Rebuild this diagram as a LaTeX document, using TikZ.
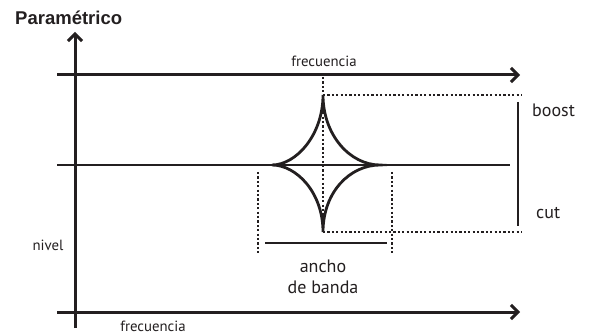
\documentclass[tikz,border=0pt]{standalone}
\usepackage{fontspec}
\setmainfont{PT Sans}
\newfontfamily\titlefont{Liberation Sans}
\usetikzlibrary{arrows.meta}
\definecolor{ink}{HTML}{231F20}
\begin{document}
\begin{tikzpicture}[x=1pt,y=-1pt,
  axis/.style={draw=ink,line width=3pt,-{Straight Barb[length=7pt,width=14pt,line width=3pt]}},
  solid line/.style={draw=ink,line width=2.8pt},
  dotline/.style={draw=ink,line width=2.4pt,dash pattern=on 2.2pt off 2.2pt},
  curve/.style={draw=ink,line width=2.8pt},
  lab/.style={inner sep=0pt,text=ink,font=\fontsize{14.8}{16}\selectfont},
  biglab/.style={inner sep=0pt,text=ink,font=\fontsize{18}{21}\selectfont}]
\useasboundingbox (0,0) rectangle (593,336);
% coordinates
\coordinate (yB) at (75,328);
\coordinate (yT) at (75,32);
\coordinate (tL) at (57,75);
\coordinate (tR) at (520,75);
\coordinate (mL) at (57,165);
\coordinate (mR) at (510,165);
\coordinate (bL) at (57,312);
\coordinate (bR) at (520,312);
\coordinate (cl) at (272,165);
\coordinate (cr) at (380,165);
\coordinate (ct) at (323,95);
\coordinate (cb) at (323,232);
\coordinate (dvT) at (323,77);
\coordinate (dtR) at (522,95);
\coordinate (dbR) at (522,232);
\coordinate (vT) at (518,102);
\coordinate (vB) at (518,226);
\coordinate (ldT) at (258,172);
\coordinate (ldB) at (258,253);
\coordinate (rdT) at (392,172);
\coordinate (rdB) at (392,253);
\coordinate (bwL) at (265,243);
\coordinate (bwR) at (387,243);
% axes
\draw[axis] (yB) -- (yT);
\draw[axis] (tL) -- (tR);
\draw[solid line] (mL) -- (mR);
\draw[axis] (bL) -- (bR);
% dotted guides
\draw[dotline] (dvT) -- (cb);
\draw[dotline] (ct) -- (dtR);
\draw[dotline] (cb) -- (dbR);
\draw[dotline] (ldT) -- (ldB);
\draw[dotline] (rdT) -- (rdB);
% boost/cut bar and bandwidth bar
\draw[solid line] (vT) -- (vB);
\draw[solid line] (bwL) -- (bwR);
% star curves
\draw[curve,line join=miter,miter limit=20] (cl) .. controls (296,165) and (323,135) .. (ct)
  .. controls (323,135) and (350,165) .. (cr)
  .. controls (350,165) and (323,192) .. (cb)
  .. controls (323,192) and (296,165) .. (cl);
% labels
\node[inner sep=0pt,anchor=west,text=ink,font=\titlefont\bfseries\fontsize{18.5}{20}\selectfont] (title) at (15,18) {Paramétrico};
\node[lab] (ftop) at (324,61) {frecuencia};
\node[lab] (fbot) at (153,326) {frecuencia};
\node[lab] (nivel) at (48,245) {nivel};
\node[biglab,anchor=west] (boost) at (532,110) {boost};
\node[biglab,anchor=west] (cut) at (536,213) {cut};
\node[biglab,align=center] (bw) at (323,277) {ancho\\de banda};
\end{tikzpicture}
\end{document}
